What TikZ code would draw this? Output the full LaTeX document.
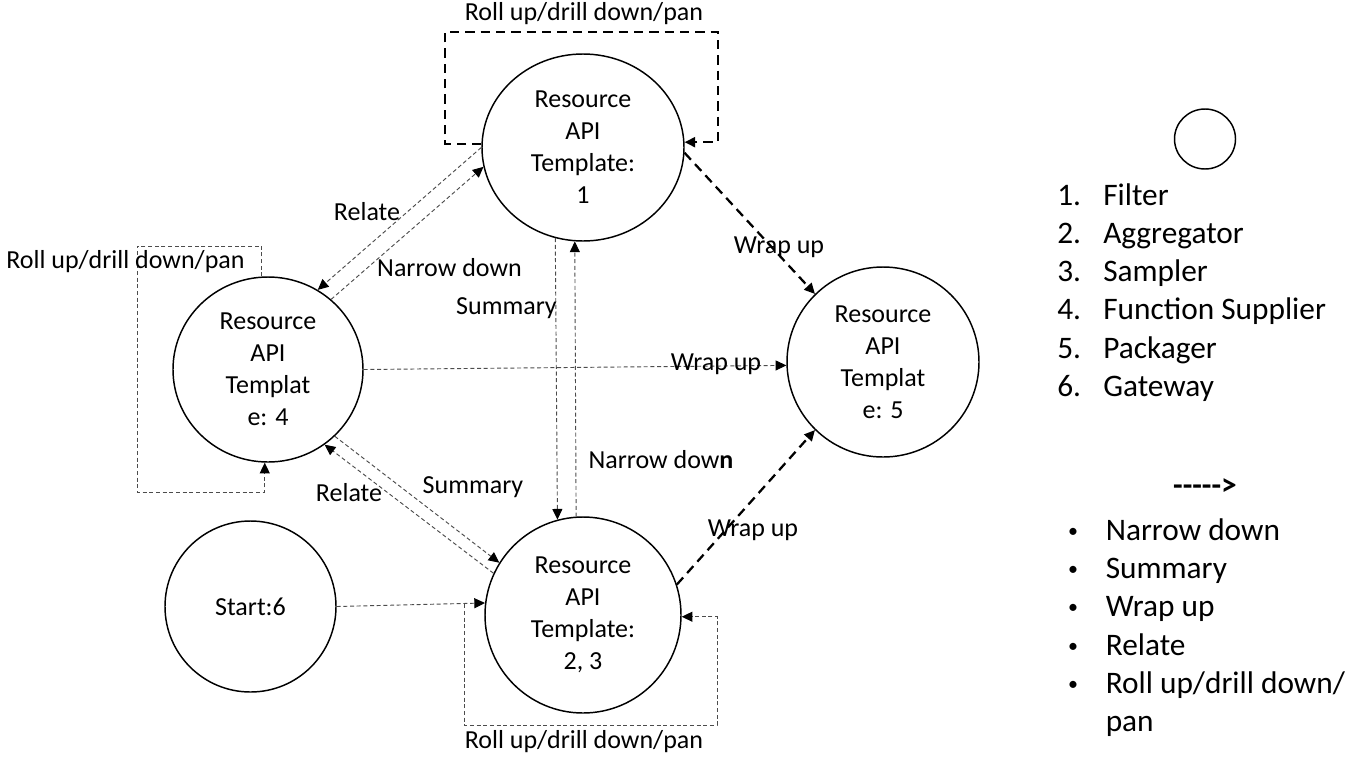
\documentclass[tikz,border=0pt]{standalone}
\usepackage{fontspec}
\setmainfont{Carlito}
\usetikzlibrary{arrows.meta,shapes.geometric}
\newcommand{\diagfont}{\fontsize{19.5}{24}\selectfont}
\newcommand{\legfont}{\fontsize{23.5}{28.75}\selectfont}
\tikzset{
  apinode/.style={ellipse, draw=black, line width=1.1pt, inner sep=0pt, align=center, font=\diagfont},
  thinflow/.style={draw=black!70, line width=0.7pt, dash pattern=on 3pt off 2pt, -{Triangle[length=8pt,width=7.5pt,color=black]}},
  thickflow/.style={draw=black, line width=1.7pt, dash pattern=on 7pt off 4.5pt, -{Triangle[length=8pt,width=7.5pt]}},
  flowlabel/.style={font=\diagfont, anchor=base, inner sep=0pt},
  legtext/.style={font=\legfont, anchor=base west, inner sep=0pt},
}
\begin{document}
\begin{tikzpicture}[x=0.75pt, y=-0.75pt]
    \useasboundingbox (0,0) rectangle (1356,761);
    % Template nodes
    \node[apinode, minimum width=151.5pt, minimum height=140.25pt] (n1) at (583,147.5) {Resource\\API\\Template:\\1};
    \node[apinode, minimum width=142.5pt, minimum height=138.75pt] (n4) at (268,369.5) {Resource\\API\\Templat\\e: 4};
    \node[apinode, minimum width=144pt, minimum height=142.5pt] (n5) at (883,362) {Resource\\API\\Templat\\e: 5};
    \node[apinode, minimum width=147pt, minimum height=147pt] (n23) at (583,615) {Resource\\API\\Template:\\2, 3};
    \node[apinode, minimum width=128.25pt, minimum height=128.25pt] (start) at (250.5,606.5) {Start:6};
    % Relate / narrow down between 1 and 4
    \draw[thinflow] (n1.180) -- (n4.58);
    \draw[thinflow] (n4.48) -- (n1.191);
    \node[flowlabel] (relateA) at (367,220.7) {Relate};
    \node[flowlabel] (narrowA) at (449.5,276.7) {Narrow down};
    % Summary / narrow down between 1 and 2,3
    \draw[thinflow] (n1.253.4) -- (n23.105.4);
    \draw[thinflow] (n23.94.7) -- (n1.265);
    \node[flowlabel] (summaryA) at (506.5,314) {Summary};
    \node[flowlabel] (narrowB) at (661,468.3) {Narrow dow\textbf{n}};
    % Summary / relate between 4 and 2,3
    \draw[thinflow] (n4.-45) -- (n23.148.5);
    \draw[thinflow] (n23.155.5) -- (n4.-53.3);
    \node[flowlabel] (summaryB) at (473,493.3) {Summary};
    \node[flowlabel] (relateB) at (349,501.7) {Relate};
    % Wrap up into 5
    \draw[thinflow] (n4.0) -- (n5.182.8);
    \node[flowlabel] (wrapA) at (716,370.7) {Wrap up};
    \draw[thickflow] (n1.-3) -- (n5.135.4);
    \node[flowlabel] (wrapB) at (779,253.3) {Wrap up};
    \draw[thickflow] (n23.18.8) -- (n5.225);
    \node[flowlabel] (wrapC) at (753,536.7) {Wrap up};
    % Start
    \draw[thinflow] (start.0) -- (n23.173.7);
    \coordinate (loopstart) at (464,604.2);
    % Roll up/drill down/pan loops
    \draw[thickflow] (n1.178) -| (445,32) -- (718,32) |- (n1.3);
    \node[flowlabel] (rollA) at (584,20) {Roll up/drill down/pan};
    \draw[thinflow] (n4.94) |- (137,246) -- (137,492) -| (n4.268);
    \node[flowlabel] (rollB) at (125.5,268) {Roll up/drill down/pan};
    \draw[thinflow] (loopstart) |- (717,725) |- (n23.-1);
    \node[flowlabel] (rollC) at (584,748) {Roll up/drill down/pan};
    % Legend
    \node[apinode, minimum width=45.75pt, minimum height=45pt] (legcirc) at (1205,139) {};
    \foreach \num/\item [count=\i] in {1/Filter, 2/Aggregator, 3/Sampler, 4/Function Supplier, 5/Packager, 6/Gateway}{
        \node[legtext] (num\i) at (1057,{205+38.33*(\i-1)}) {\num.};
        \node[legtext] (item\i) at (1103,{205+38.33*(\i-1)}) {\item};
    }
    \node[font=\legfont\bfseries, anchor=base, inner sep=0pt] (legarrow) at (1205,495) {-\kern0pt-\kern0pt-\kern0pt-\kern0pt-\kern0pt>};
    \foreach \item [count=\i] in {Narrow down, Summary, Wrap up, Relate, Roll up/drill down/}{
        \node[font=\fontsize{15}{18}\selectfont, anchor=base, inner sep=0pt] (bul\i) at (1073,{537+38.33*(\i-1)}) {\textbullet};
        \node[legtext] (flow\i) at (1105.5,{540+38.33*(\i-1)}) {\item};
    }
    \node[legtext] (flow6) at (1105.5,731.7) {pan};
\end{tikzpicture}
\end{document}
